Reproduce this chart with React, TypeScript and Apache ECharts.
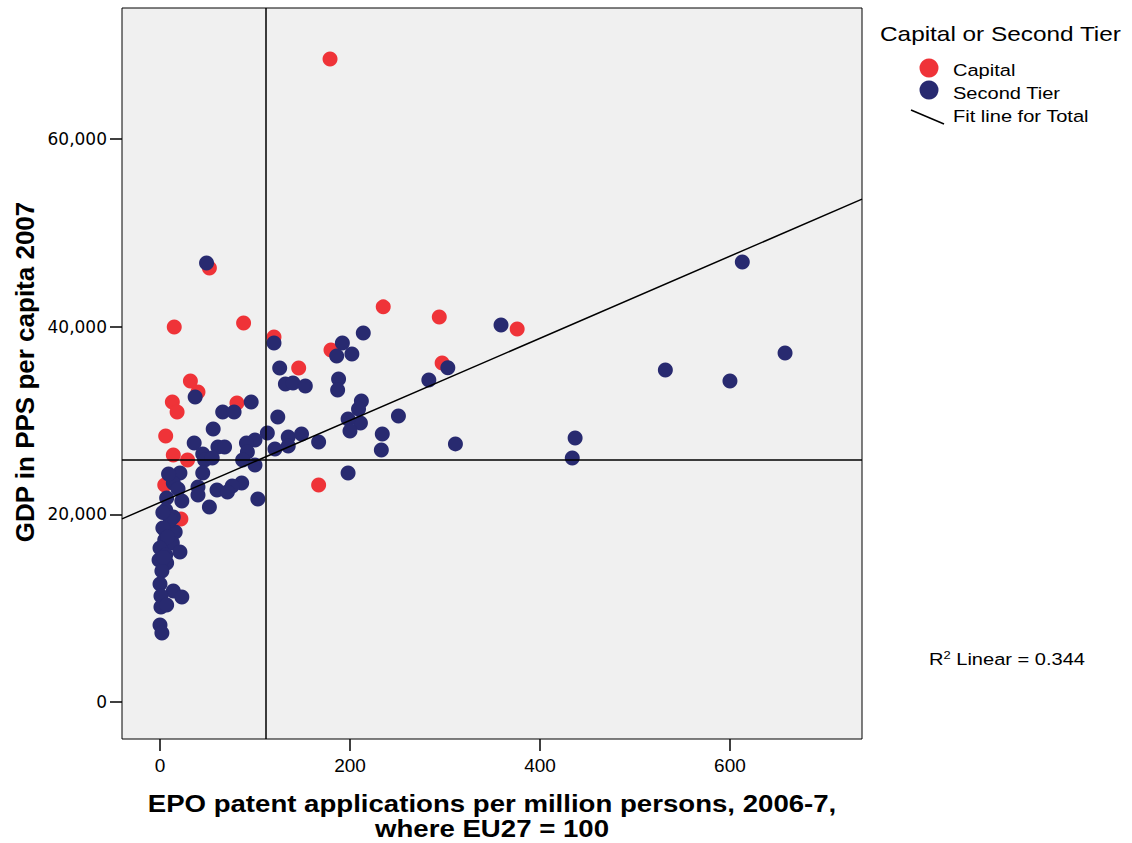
import React, { useEffect, useRef } from "react";
import * as echarts from "echarts";

// Capital regions: EPO patent applications (x) vs GDP in PPS per capita (y)
const capitalX = [179, 52, 15, 88, 235, 294, 376, 120, 180, 297, 146, 32, 40, 13, 18, 81, 6, 14, 29, 5, 167, 22];
const capitalY = [68520, 46250, 39960, 40390, 42100, 41030, 39750, 38900, 37510, 36130, 35590, 34210, 33040, 31970, 30900, 31860, 28350, 26320, 25790, 23130, 23130, 19500];

// Second tier regions
const secondX = [
  613, 658, 600, 532, 437, 434, 359, 311, 303, 283, 251, 234, 233, 214, 202, 192, 186, 188, 187, 198,
  212, 209, 211, 198, 200, 120, 126, 132, 140, 153, 124, 113, 135, 135, 121, 149, 167, 103, 49, 37,
  96, 66, 78, 56, 100, 91, 36, 61, 68, 92, 45, 47, 87, 100, 21, 45, 14, 86, 76, 60,
  71, 40, 40, 52, 7, 23, 6, 14, 5, 16, 5, 13, 21, -1, 7, 2, 0, 14, 23, 1,
  1, 7, 0, 2, 11, 3, 8, 0, 6, 19, 55, 3, 9, 4
];
const secondY = [
  46890, 37190, 34210, 35380, 28130, 26000, 40180, 27500, 35600, 34320, 30480, 28560, 26860, 39320, 37090, 38260, 36870, 34420, 33250, 24400,
  32080, 31220, 29730, 30160, 28880, 38260, 35590, 33890, 34000, 33680, 30370, 28670, 28240, 27280, 26960, 28560, 27710, 21630, 46780, 32500,
  31970, 30900, 30900, 29090, 27920, 27600, 27600, 27180, 27180, 26640, 26430, 25790, 25790, 25260, 24400, 24400, 23340, 23340, 23020, 22590,
  22380, 22910, 22060, 20780, 21740, 21420, 20460, 19720, 18330, 18120, 17260, 16940, 15990, 15130, 14810, 13960, 12580, 11830, 11190, 11300,
  10120, 10340, 8210, 7350, 19400, 18540, 17580, 16410, 15660, 22700, 26000, 20200, 24300, 15400
];

const xTicks = [0, 200, 400, 600];
const yTicks = [0, 20000, 40000, 60000];

const xMin = -40;
const xMax = 739;
const yMin = -3950;
const yMax = 73950;

// Reference lines (means) and linear fit
const meanX = 111.6;
const meanY = 25790;
const fitIntercept = 21260;
const fitSlope = 43.74;
const rSquared = "0.344";

const RED = "#ef3338";
const NAVY = "#282a70";
const SANS = "'Liberation Sans', Arial, sans-serif";
const WIDE = "'DejaVu Sans', 'Liberation Sans', sans-serif";

export default function App() {
  const ref = useRef<HTMLDivElement>(null);

  useEffect(() => {
    document.body.style.margin = "0";
    if (!ref.current) return;
    const chart = echarts.init(ref.current, null, { renderer: "svg" });

    const capitalData = capitalX.map((x, i) => [x, capitalY[i]]);
    const secondData = secondX.map((x, i) => [x, secondY[i]]);
    const fitData = [
      [xMin, fitIntercept + fitSlope * xMin],
      [xMax, fitIntercept + fitSlope * xMax],
    ];

    const legendText = (text: string, y: number) => ({
      type: "text",
      x: 953,
      y,
      scaleX: 1.18,
      style: {
        text,
        fontSize: 17,
        fontFamily: SANS,
        fill: "#000",
        align: "left",
        verticalAlign: "middle",
      },
    });

    chart.setOption({
      animation: false,
      backgroundColor: "#ffffff",
      grid: {
        left: 122,
        top: 8,
        right: 270,
        bottom: 104,
        show: true,
        backgroundColor: "#f0f0f0",
        borderColor: "#000000",
        borderWidth: 1,
      },
      xAxis: {
        type: "value",
        min: xMin,
        max: xMax,
        splitLine: { show: false },
        axisLine: { show: false, onZero: false },
        axisTick: {
          show: true,
          length: 12,
          customValues: xTicks,
          lineStyle: { color: "#000", width: 1.5 },
        },
        axisLabel: {
          customValues: xTicks,
          margin: 17,
          color: "#000",
          fontSize: 19,
          fontFamily: SANS,
        },
      },
      yAxis: {
        type: "value",
        min: yMin,
        max: yMax,
        splitLine: { show: false },
        axisLine: { show: false, onZero: false },
        axisTick: {
          show: true,
          length: 12,
          customValues: yTicks,
          lineStyle: { color: "#000", width: 1.5 },
        },
        axisLabel: {
          customValues: yTicks,
          margin: 15,
          color: "#000",
          fontSize: 17,
          fontFamily: WIDE,
          formatter: (v: number) => v.toLocaleString("en-US"),
        },
      },
      series: [
        {
          name: "Capital",
          type: "scatter",
          data: capitalData,
          symbol: "circle",
          symbolSize: 15,
          itemStyle: { color: RED, opacity: 1 },
          z: 3,
        },
        {
          name: "Second Tier",
          type: "scatter",
          data: secondData,
          symbol: "circle",
          symbolSize: 15,
          itemStyle: { color: NAVY, opacity: 1 },
          z: 4,
        },
        {
          name: "Fit line for Total",
          type: "line",
          data: fitData,
          symbol: "none",
          lineStyle: { color: "#000", width: 1.5 },
          z: 5,
          markLine: {
            silent: true,
            symbol: ["none", "none"],
            label: { show: false },
            lineStyle: { color: "#000", width: 1.5, type: "solid" },
            data: [{ xAxis: meanX }, { yAxis: meanY }],
          },
        },
      ],
      graphic: [
        {
          type: "text",
          x: 25,
          y: 372,
          rotation: Math.PI / 2,
          style: {
            text: "GDP in PPS per capita 2007",
            fontSize: 26,
            fontWeight: "bold",
            fontFamily: SANS,
            fill: "#000",
            align: "center",
            verticalAlign: "middle",
          },
        },
        {
          type: "text",
          x: 492,
          y: 804,
          scaleX: 1.15,
          style: {
            text: "EPO patent applications per million persons, 2006-7,",
            fontSize: 24,
            fontWeight: "bold",
            fontFamily: SANS,
            fill: "#000",
            align: "center",
            verticalAlign: "middle",
          },
        },
        {
          type: "text",
          x: 492,
          y: 829,
          scaleX: 1.15,
          style: {
            text: "where EU27 = 100",
            fontSize: 24,
            fontWeight: "bold",
            fontFamily: SANS,
            fill: "#000",
            align: "center",
            verticalAlign: "middle",
          },
        },
        {
          type: "text",
          x: 880,
          y: 34,
          scaleX: 1.16,
          style: {
            text: "Capital or Second Tier",
            fontSize: 21,
            fontFamily: SANS,
            fill: "#000",
            align: "left",
            verticalAlign: "middle",
          },
        },
        {
          type: "circle",
          shape: { cx: 929, cy: 68, r: 9.5 },
          style: { fill: RED },
        },
        legendText("Capital", 70),
        {
          type: "circle",
          shape: { cx: 929, cy: 90, r: 9.5 },
          style: { fill: NAVY },
        },
        legendText("Second Tier", 93),
        {
          type: "line",
          shape: { x1: 911, y1: 110, x2: 944, y2: 124 },
          style: { stroke: "#000", lineWidth: 1.5 },
        },
        legendText("Fit line for Total", 116),
        {
          type: "text",
          x: 929,
          y: 659,
          scaleX: 1.18,
          style: {
            text: "{r|R}{s|2}{r| Linear = " + rSquared + "}",
            fill: "#000",
            align: "left",
            verticalAlign: "middle",
            rich: {
              r: { fontSize: 17, fontFamily: SANS, fill: "#000", verticalAlign: "bottom" },
              s: { fontSize: 11, fontFamily: SANS, fill: "#000", verticalAlign: "top", padding: [0, 0, 7, 0] },
            },
          },
        },
      ],
    });

    return () => chart.dispose();
  }, []);

  return <div ref={ref} style={{ width: 1132, height: 843 }} />;
}
